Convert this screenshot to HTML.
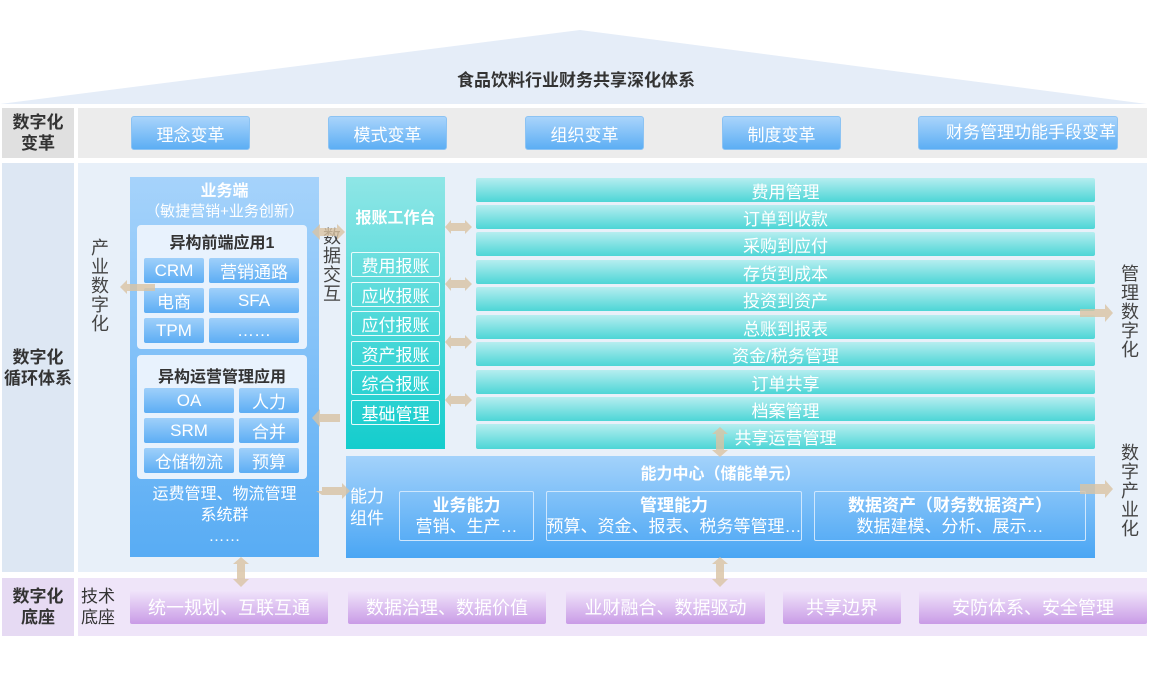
<!DOCTYPE html>
<html><head><meta charset="utf-8"><style>
*{margin:0;padding:0;box-sizing:border-box}
body{width:1152px;height:700px;background:#fff;position:relative;overflow:hidden;font-family:"Liberation Sans","Noto Sans CJK SC",sans-serif}
.a{position:absolute}
.c{display:flex;align-items:center;justify-content:center;text-align:center}
.btn{background:linear-gradient(#a9d4fb,#5caef4);color:#fff;font-size:17px;border-radius:3px;border:1px solid #8cc3f3}
.lab{color:#333;font-weight:bold;font-size:17px;line-height:21px}
.sb{background:linear-gradient(#9fd0fa,#5cadf4);color:#fff;font-size:17px;border-radius:2px}
.tr{background:linear-gradient(#b6eef0,#4dd6d6);color:#fff;font-size:17px;border-radius:2px}
.ws{border:1px solid #e8fbfb;color:#fff;font-size:17px;border-radius:2px}
.pu{background:linear-gradient(#f1e6fb,#c99be6);color:#fff;font-size:18px;border-radius:2px}
.vt{color:#444;font-size:18px;line-height:19px;width:20px;text-align:center}
</style></head><body>
<svg class="a" style="left:0;top:0" width="1152" height="700">
<polygon points="0,104 580,30 1147,104" fill="#e5edf8"/>
</svg>
<div class="a c" style="left:0;width:1152px;top:66px;height:24px;font-size:17px;font-weight:bold;color:#333">食品饮料行业财务共享深化体系</div>

<div class="a c lab" style="left:2px;top:108px;width:72px;height:50px;background:#e0e0e0">数字化<br>变革</div>
<div class="a" style="left:78px;top:108px;width:1069px;height:50px;background:#ececec"></div>
<div class="a c btn" style="left:131px;top:116px;width:119px;height:34px">理念变革</div>
<div class="a c btn" style="left:328px;top:116px;width:119px;height:34px">模式变革</div>
<div class="a c btn" style="left:525px;top:116px;width:119px;height:34px">组织变革</div>
<div class="a c btn" style="left:722px;top:116px;width:119px;height:34px">制度变革</div>
<div class="a btn" style="left:918px;top:116px;width:200px;height:34px;line-height:32px;padding-left:27px;white-space:nowrap;overflow:visible">财务管理功能手段变革</div>

<div class="a c lab" style="left:2px;top:163px;width:72px;height:409px;background:#dde7f3">数字化<br>循环体系</div>
<div class="a" style="left:78px;top:163px;width:1069px;height:409px;background:#e8f0f9"></div>

<div class="a vt" style="left:90px;top:239px">产业数字化</div>
<div class="a vt" style="left:1120px;top:265px">管理数字化</div>
<div class="a vt" style="left:1120px;top:444px">数字产业化</div>
<div class="a vt" style="left:322px;top:228px">数据交互</div>

<div class="a" style="left:130px;top:177px;width:189px;height:380px;background:linear-gradient(#a6d3fb,#58acf4)"></div>
<div class="a c" style="left:130px;top:179px;width:189px;height:20px;color:#fff;font-weight:bold;font-size:16px">业务端</div>
<div class="a c" style="left:130px;top:200px;width:189px;height:20px;color:#fff;font-size:15px">（敏捷营销+业务创新）</div>
<div class="a" style="left:137px;top:225px;width:170px;height:124px;background:#e8f2fd;border-radius:4px"></div>
<div class="a c" style="left:137px;top:231px;width:170px;height:20px;color:#333;font-weight:bold;font-size:16px">异构前端应用1</div>
<div class="a c sb" style="left:144px;top:258px;width:60px;height:25px">CRM</div>
<div class="a c sb" style="left:209px;top:258px;width:90px;height:25px">营销通路</div>
<div class="a c sb" style="left:144px;top:288px;width:60px;height:25px">电商</div>
<div class="a c sb" style="left:209px;top:288px;width:90px;height:25px">SFA</div>
<div class="a c sb" style="left:144px;top:318px;width:60px;height:25px">TPM</div>
<div class="a c sb" style="left:209px;top:318px;width:90px;height:25px">……</div>
<div class="a" style="left:137px;top:355px;width:170px;height:124px;background:#e8f2fd;border-radius:4px"></div>
<div class="a c" style="left:137px;top:364px;width:170px;height:22px;color:#333;font-weight:bold;font-size:16px">异构运营管理应用</div>
<div class="a c sb" style="left:144px;top:388px;width:90px;height:25px">OA</div>
<div class="a c sb" style="left:239px;top:388px;width:60px;height:25px">人力</div>
<div class="a c sb" style="left:144px;top:418px;width:90px;height:25px">SRM</div>
<div class="a c sb" style="left:239px;top:418px;width:60px;height:25px">合并</div>
<div class="a c sb" style="left:144px;top:448px;width:90px;height:25px">仓储物流</div>
<div class="a c sb" style="left:239px;top:448px;width:60px;height:25px">预算</div>
<div class="a c" style="left:130px;top:486px;width:189px;height:58px;color:#fff;font-size:16px;line-height:21px">运费管理、物流管理<br>系统群<br>……</div>

<div class="a" style="left:346px;top:177px;width:99px;height:272px;background:linear-gradient(#8fe6e6,#14cdcd)"></div>
<div class="a c" style="left:346px;top:205px;width:99px;height:22px;color:#fff;font-weight:bold;font-size:16px">报账工作台</div>
<div class="a c ws" style="left:351px;top:252px;width:89px;height:25px">费用报账</div>
<div class="a c ws" style="left:351px;top:282px;width:89px;height:25px">应收报账</div>
<div class="a c ws" style="left:351px;top:311px;width:89px;height:25px">应付报账</div>
<div class="a c ws" style="left:351px;top:341px;width:89px;height:25px">资产报账</div>
<div class="a c ws" style="left:351px;top:370px;width:89px;height:25px">综合报账</div>
<div class="a c ws" style="left:351px;top:400px;width:89px;height:25px">基础管理</div>

<div class="a c tr" style="left:476px;top:178px;width:619px;height:24px">费用管理</div>
<div class="a c tr" style="left:476px;top:205px;width:619px;height:24px">订单到收款</div>
<div class="a c tr" style="left:476px;top:232px;width:619px;height:24px">采购到应付</div>
<div class="a c tr" style="left:476px;top:260px;width:619px;height:24px">存货到成本</div>
<div class="a c tr" style="left:476px;top:287px;width:619px;height:24px">投资到资产</div>
<div class="a c tr" style="left:476px;top:315px;width:619px;height:24px">总账到报表</div>
<div class="a c tr" style="left:476px;top:342px;width:619px;height:24px">资金/税务管理</div>
<div class="a c tr" style="left:476px;top:370px;width:619px;height:24px">订单共享</div>
<div class="a c tr" style="left:476px;top:397px;width:619px;height:24px">档案管理</div>
<div class="a c tr" style="left:476px;top:424px;width:619px;height:25px">共享运营管理</div>

<div class="a" style="left:346px;top:456px;width:749px;height:102px;background:linear-gradient(#a3d2fb,#4aa6f4)"></div>
<div class="a c" style="left:346px;top:461px;width:749px;height:22px;color:#fff;font-weight:bold;font-size:16px">能力中心（储能单元）</div>
<div class="a" style="left:350px;top:486px;color:#fff;font-size:17px;line-height:22px">能力<br>组件</div>
<div class="a c ws" style="left:399px;top:491px;width:135px;height:50px;border-color:#cfe7fd;flex-direction:column;line-height:21px"><b>业务能力</b>营销、生产…</div>
<div class="a c ws" style="left:546px;top:491px;width:256px;height:50px;border-color:#cfe7fd;flex-direction:column;line-height:21px;white-space:nowrap"><b>管理能力</b>预算、资金、报表、税务等管理…</div>
<div class="a c ws" style="left:814px;top:491px;width:272px;height:50px;border-color:#cfe7fd;flex-direction:column;line-height:21px;white-space:nowrap"><b>数据资产（财务数据资产）</b>数据建模、分析、展示…</div>

<div class="a c lab" style="left:2px;top:578px;width:72px;height:58px;background:#e6daf3">数字化<br>底座</div>
<div class="a" style="left:78px;top:578px;width:1069px;height:58px;background:#efe5f9"></div>
<div class="a" style="left:81px;top:586px;color:#333;font-size:17px;line-height:21px">技术<br>底座</div>
<div class="a c pu" style="left:130px;top:590px;width:198px;height:34px">统一规划、互联互通</div>
<div class="a c pu" style="left:348px;top:590px;width:198px;height:34px">数据治理、数据价值</div>
<div class="a c pu" style="left:566px;top:590px;width:199px;height:34px">业财融合、数据驱动</div>
<div class="a c pu" style="left:783px;top:590px;width:118px;height:34px">共享边界</div>
<div class="a c pu" style="left:919px;top:590px;width:228px;height:34px">安防体系、安全管理</div>

<svg class="a" style="left:0;top:0" width="1152" height="700">
<g fill="#d9c3a3" opacity="0.8">
<polygon points="120,287 127,280 127,284 155,284 155,291 127,291 127,294"/>
<polygon points="312,232 320,224 320,228 337,228 337,224 345,232 337,240 337,236 320,236 320,240"/>
<polygon points="312,418 320,409 320,414 340,414 340,422 320,422 320,427"/>
<polygon points="316,491 322,491 322,487 342,487 342,483 350,491 342,499 342,495 322,495"/>
<g id="ra"><polygon points="445,227 451,220 451,223 465,223 465,220 472,227 465,234 465,231 451,231 451,234"/></g>
<use href="#ra" y="57"/><use href="#ra" y="115"/><use href="#ra" y="173"/>
<polygon points="1080,309 1105,309 1105,304 1113,313 1105,322 1105,317 1080,317"/>
<polygon points="1080,484 1105,484 1105,480 1113,489 1105,498 1105,494 1080,494"/>
<polygon points="720,427 728,434 724,434 724,450 728,450 720,457 712,450 716,450 716,434 712,434"/>
<polygon points="720,557 728,564 724,564 724,579 728,579 720,587 712,579 716,579 716,564 712,564"/>
<polygon points="241,557 249,564 245,564 245,579 249,579 241,587 233,579 237,579 237,564 233,564"/>
</g></svg>
</body></html>
